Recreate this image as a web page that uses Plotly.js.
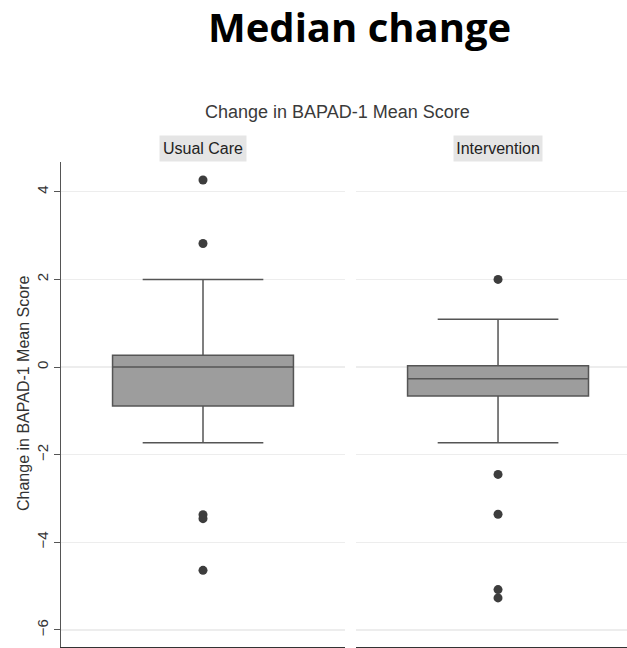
<!DOCTYPE html>
<html>
<head>
<meta charset="utf-8">
<script src="https://cdn.plot.ly/plotly-3.0.1.min.js"></script>
<style>
html,body{margin:0;padding:0;background:#fff;overflow:hidden;}
#chart{width:627px;height:648px;}
</style>
</head>
<body>
<div id="chart"></div>
<script>
// Groups (facets)
const groups = ["Usual Care", "Intervention"];

// Box statistics
const q1Values = [-0.89, -0.66];
const medianValues = [0.0, -0.265];
const q3Values = [0.27, 0.03];
const lowerWhisker = [-1.73, -1.73];
const upperWhisker = [2.0, 1.09];

// Outside values per group
const usualCareOutliers = [4.27, 2.82, -3.37, -3.46, -4.64];
const interventionOutliers = [2.0, -2.45, -3.36, -5.08, -5.27];

const yTicks = [-6, -4, -2, 0, 2, 4];

const mainTitle = "Median change";
const chartTitle = "Change in BAPAD-1 Mean Score";
const yTitle = "Change in BAPAD-1 Mean Score";

const baseFont = "Liberation Sans, Arial, sans-serif";
const outlierLists = [usualCareOutliers, interventionOutliers];
const axisIds = [["x", "y"], ["x2", "y2"]];

const traces = [];
groups.forEach((g, i) => {
  traces.push({
    type: "box",
    x: [g],
    q1: [q1Values[i]],
    median: [medianValues[i]],
    q3: [q3Values[i]],
    lowerfence: [lowerWhisker[i]],
    upperfence: [upperWhisker[i]],
    boxpoints: false,
    width: 0.637,
    whiskerwidth: 0.667,
    fillcolor: "#9d9d9d",
    line: {color: "#555555", width: 1.5},
    xaxis: axisIds[i][0],
    yaxis: axisIds[i][1],
    showlegend: false,
    hoverinfo: "y"
  });
  traces.push({
    type: "scatter",
    mode: "markers",
    x: outlierLists[i].map(() => g),
    y: outlierLists[i],
    marker: {size: 9, color: "#3d3d3d"},
    xaxis: axisIds[i][0],
    yaxis: axisIds[i][1],
    showlegend: false,
    hoverinfo: "y"
  });
});

const L = 61, R = 627, T = 162, B = 647;
const px = X => (X - L) / (R - L);
const py = Y => (B - Y) / (B - T);

const xCommon = {
  type: "category",
  showticklabels: false,
  ticks: "",
  showgrid: false,
  zeroline: false,
  showline: true,
  linecolor: "#333333",
  linewidth: 1.5,
  fixedrange: true
};
const yCommon = {
  range: [-6.39, 4.68],
  tickvals: yTicks,
  showgrid: true,
  gridcolor: "#ededed",
  gridwidth: 1.2,
  zeroline: false,
  fixedrange: true
};

const layout = {
  width: 627,
  height: 648,
  margin: {l: L, r: 0, t: T, b: 1, pad: 0},
  paper_bgcolor: "#ffffff",
  plot_bgcolor: "#ffffff",
  showlegend: false,
  font: {family: baseFont, color: "#333333"},
  xaxis: Object.assign({}, xCommon, {domain: [0, px(345)], range: [-0.5, 0.5], anchor: "y"}),
  xaxis2: Object.assign({}, xCommon, {domain: [px(356), 1], range: [-0.5, 0.454], anchor: "y2"}),
  yaxis: Object.assign({}, yCommon, {
    anchor: "x",
    tickangle: -90,
    ticks: "outside",
    ticklen: 6,
    tickwidth: 1,
    tickcolor: "#555555",
    tickfont: {family: baseFont, size: 15, color: "#333333"},
    showline: true,
    linecolor: "#555555",
    linewidth: 1.2
  }),
  yaxis2: Object.assign({}, yCommon, {
    anchor: "x2",
    showticklabels: false,
    ticks: "",
    showline: false
  }),
  annotations: [
    {text: "<b>" + mainTitle + "</b>", xref: "paper", yref: "paper", x: px(359), y: py(26),
     xanchor: "center", yanchor: "middle", showarrow: false,
     font: {family: "Open Sans, sans-serif", size: 40, color: "#000000"}},
    {text: chartTitle, xref: "paper", yref: "paper", x: px(337.5), y: py(112),
     xanchor: "center", yanchor: "middle", showarrow: false,
     font: {family: baseFont, size: 18, color: "#3a3a3a"}},
    {text: groups[0], xref: "paper", yref: "paper", x: px(203), y: py(148.5),
     xanchor: "center", yanchor: "middle", showarrow: false, width: 86, height: 25,
     bgcolor: "#e5e5e5", borderpad: 0,
     font: {family: baseFont, size: 16, color: "#222222"}},
    {text: groups[1], xref: "paper", yref: "paper", x: px(498), y: py(148.5),
     xanchor: "center", yanchor: "middle", showarrow: false, width: 88, height: 25,
     bgcolor: "#e5e5e5", borderpad: 0,
     font: {family: baseFont, size: 16, color: "#222222"}},
    {text: yTitle, xref: "paper", yref: "paper", x: px(23), y: py(394),
     xanchor: "center", yanchor: "middle", showarrow: false, textangle: -90,
     font: {family: baseFont, size: 16, color: "#333333"}}
  ]
};

Plotly.newPlot("chart", traces, layout, {staticPlot: true, displayModeBar: false});
</script>
</body>
</html>
